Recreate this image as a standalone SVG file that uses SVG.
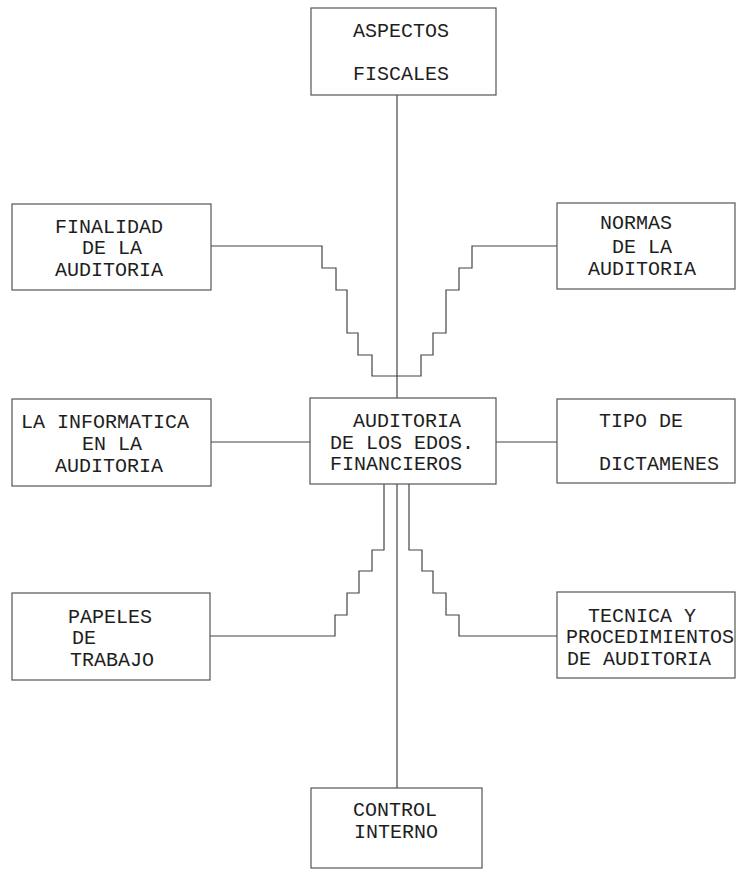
<svg xmlns="http://www.w3.org/2000/svg" width="736" height="873" viewBox="0 0 736 873">
<style>
.box{fill:none;stroke:#555;stroke-width:1.2}
.c{fill:none;stroke:#444;stroke-width:1.2}
text{font-family:"Liberation Mono","DejaVu Sans Mono",monospace;font-size:20px;fill:#1e1e1e}
</style>
<rect width="736" height="873" fill="#fff"/>
<g id="connectors">
<path class="c" d="M397,95 V398"/>
<path class="c" d="M211,246 H322 V268 H336 V290 H347 V333 H358 V355 H372 V376 H397"/>
<path class="c" d="M397,376 H421 V355 H433 V333 H446 V290 H459 V268 H472 V246 H557"/>
<path class="c" d="M211,442 H310"/>
<path class="c" d="M496,442 H557"/>
<path class="c" d="M384,484 V550 H372 V571 H359 V593 H347 V615 H335 V636 H210"/>
<path class="c" d="M409,484 V550 H422 V571 H433 V593 H446 V615 H459 V636 H557"/>
<path class="c" d="M397,484 V788"/>
</g>
<g id="aspectos">
<rect class="box" x="311" y="8" width="185" height="87"/>
<text x="353" y="37">ASPECTOS</text>
<text x="353" y="80">FISCALES</text>
</g>
<g id="finalidad">
<rect class="box" x="12" y="204" width="199" height="86"/>
<text x="55" y="233">FINALIDAD</text>
<text x="82" y="254">DE LA</text>
<text x="55" y="276">AUDITORIA</text>
</g>
<g id="normas">
<rect class="box" x="557" y="203" width="178" height="86"/>
<text x="600" y="229">NORMAS</text>
<text x="612" y="253">DE LA</text>
<text x="588" y="275">AUDITORIA</text>
</g>
<g id="informatica">
<rect class="box" x="12" y="399" width="199" height="87"/>
<text x="21" y="428">LA INFORMATICA</text>
<text x="82" y="450">EN LA</text>
<text x="55" y="472">AUDITORIA</text>
</g>
<g id="auditoria">
<rect class="box" x="310" y="398" width="186" height="86"/>
<text x="353" y="427">AUDITORIA</text>
<text x="330" y="449">DE LOS EDOS.</text>
<text x="330" y="470">FINANCIEROS</text>
</g>
<g id="tipo">
<rect class="box" x="557" y="399" width="178" height="84"/>
<text x="599" y="427">TIPO DE</text>
<text x="599" y="470">DICTAMENES</text>
</g>
<g id="papeles">
<rect class="box" x="12" y="593" width="198" height="87"/>
<text x="68" y="623">PAPELES</text>
<text x="72" y="644">DE</text>
<text x="70" y="666">TRABAJO</text>
</g>
<g id="tecnica">
<rect class="box" x="557" y="592" width="178" height="86"/>
<text x="588" y="622">TECNICA Y</text>
<text x="566" y="643">PROCEDIMIENTOS</text>
<text x="567" y="665">DE AUDITORIA</text>
</g>
<g id="control">
<rect class="box" x="311" y="788" width="171" height="80"/>
<text x="353" y="816">CONTROL</text>
<text x="354" y="838">INTERNO</text>
</g>
</svg>
